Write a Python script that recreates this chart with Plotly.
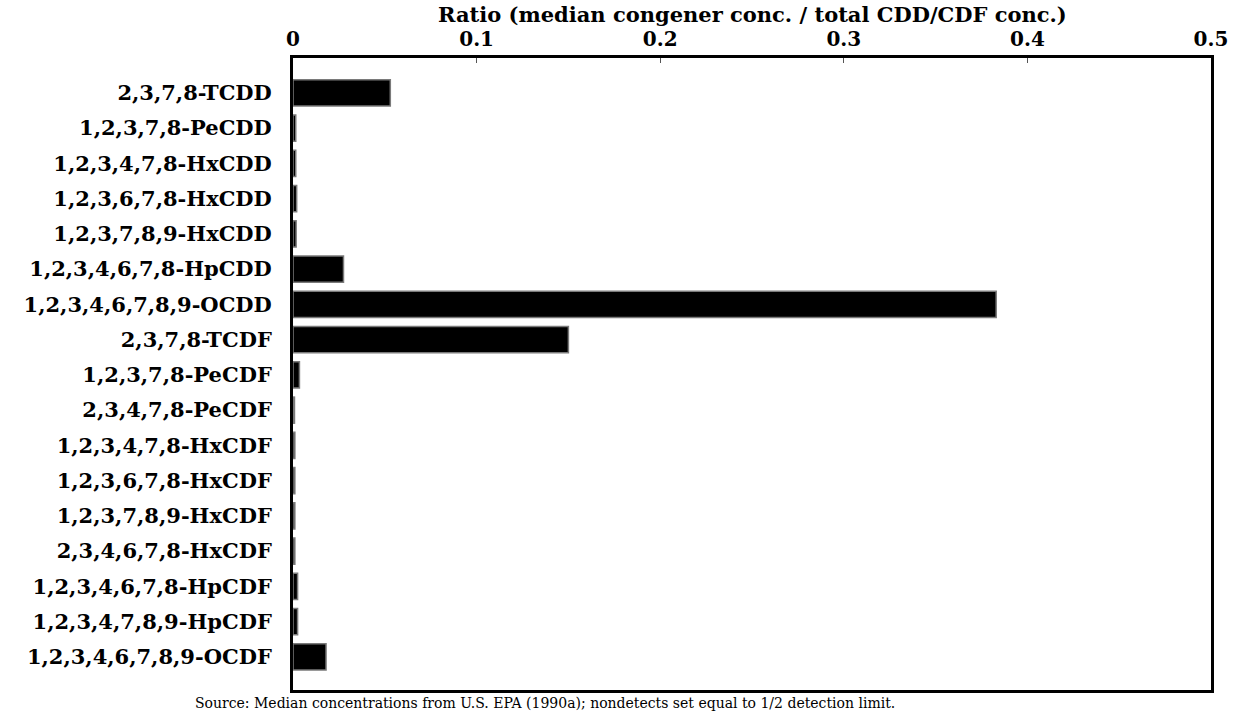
import plotly.graph_objects as go

# Congeners, top to bottom
congeners = [
    "2,3,7,8-TCDD",
    "1,2,3,7,8-PeCDD",
    "1,2,3,4,7,8-HxCDD",
    "1,2,3,6,7,8-HxCDD",
    "1,2,3,7,8,9-HxCDD",
    "1,2,3,4,6,7,8-HpCDD",
    "1,2,3,4,6,7,8,9-OCDD",
    "2,3,7,8-TCDF",
    "1,2,3,7,8-PeCDF",
    "2,3,4,7,8-PeCDF",
    "1,2,3,4,7,8-HxCDF",
    "1,2,3,6,7,8-HxCDF",
    "1,2,3,7,8,9-HxCDF",
    "2,3,4,6,7,8-HxCDF",
    "1,2,3,4,6,7,8-HpCDF",
    "1,2,3,4,7,8,9-HpCDF",
    "1,2,3,4,6,7,8,9-OCDF",
]

# Median congener concentration / total CDD/CDF concentration
ratios = [
    0.053, 0.0015, 0.0015, 0.002, 0.0017, 0.0275, 0.383, 0.150,
    0.0035, 0.0008, 0.001, 0.001, 0.001, 0.001, 0.0025, 0.0025, 0.018,
]

x_ticks = [0, 0.1, 0.2, 0.3, 0.4, 0.5]
x_tick_text = ["0", "0.1", "0.2", "0.3", "0.4", "0.5"]

FONT = "DejaVu Serif"

fig = go.Figure(
    go.Bar(
        x=ratios,
        y=congeners,
        orientation="h",
        width=0.74,
        marker=dict(color="black", line=dict(color="#7a7a7a", width=1.5)),
        hoverinfo="x+y",
    )
)

fig.update_layout(
    width=1240,
    height=714,
    margin=dict(l=293, r=27, t=58, b=24),
    paper_bgcolor="white",
    plot_bgcolor="white",
    showlegend=False,
    font=dict(family=FONT, color="black", size=19),
    xaxis=dict(
        side="top",
        range=[0, 0.5],
        tickvals=x_ticks,
        ticktext=x_tick_text,
        ticks="inside",
        ticklen=5,
        tickwidth=1,
        tickcolor="#555555",
        ticklabelstandoff=1,
        showgrid=False,
        zeroline=False,
        showline=True,
        linewidth=3,
        linecolor="black",
        mirror=True,
        tickfont=dict(family=FONT, size=20, weight="bold"),
    ),
    yaxis=dict(
        type="category",
        categoryorder="array",
        categoryarray=congeners,
        range=[16.94, -0.99],
        ticks="",
        showgrid=False,
        zeroline=False,
        showline=True,
        linewidth=3,
        linecolor="black",
        mirror=True,
        tickfont=dict(family=FONT, size=21, weight="bold"),
        ticklabelstandoff=14,
    ),
    annotations=[
        # x-axis title above the tick labels
        dict(
            text="Ratio (median congener conc. / total CDD/CDF conc.)",
            xref="paper",
            yref="paper",
            x=0.5,
            y=1.069,
            xanchor="center",
            yanchor="middle",
            showarrow=False,
            font=dict(family=FONT, size=21, weight="bold"),
        ),
        dict(
            text="Source: Median concentrations from U.S. EPA (1990a); nondetects set equal to 1/2 detection limit.",
            xref="paper",
            yref="paper",
            x=0.275,
            y=-0.021,
            xanchor="center",
            yanchor="middle",
            showarrow=False,
            font=dict(family=FONT, size=14),
        ),
    ],
)

fig.write_html("out.html")
